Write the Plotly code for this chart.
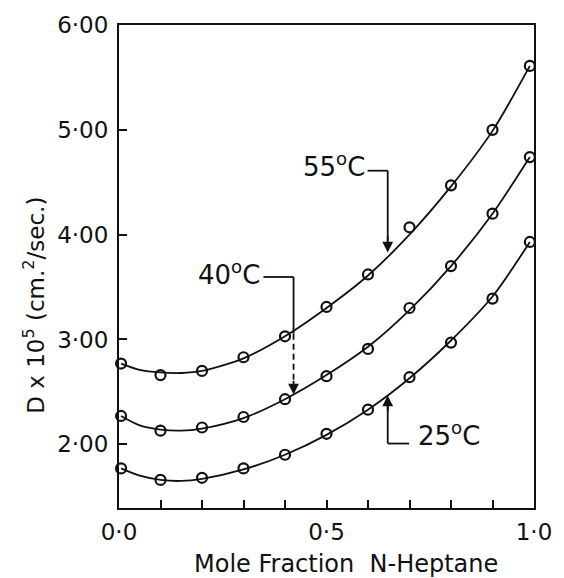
import plotly.graph_objects as go

# ---- data ----
mole_fraction = [0.005, 0.1, 0.2, 0.3, 0.4, 0.5, 0.6, 0.7, 0.8, 0.9, 0.99]
d_25C = [1.77, 1.66, 1.68, 1.77, 1.90, 2.10, 2.33, 2.64, 2.97, 3.39, 3.93]
d_40C = [2.27, 2.13, 2.16, 2.26, 2.43, 2.65, 2.91, 3.30, 3.70, 4.20, 4.74]
d_55C = [2.77, 2.66, 2.70, 2.83, 3.03, 3.31, 3.62, 4.07, 4.47, 5.00, 5.61]

# smooth fitted curves as drawn in the picture
curve_x = [0.005, 0.05, 0.1, 0.15, 0.2, 0.3, 0.4, 0.5, 0.6, 0.7, 0.8, 0.9, 0.99]
curve_25C = [1.77, 1.70, 1.66, 1.65, 1.67, 1.76, 1.90, 2.09, 2.33, 2.63, 2.99, 3.41, 3.93]
curve_40C = [2.27, 2.18, 2.14, 2.13, 2.15, 2.25, 2.43, 2.66, 2.93, 3.28, 3.70, 4.20, 4.74]
curve_55C = [2.77, 2.71, 2.685, 2.68, 2.70, 2.82, 3.03, 3.30, 3.61, 4.00, 4.46, 4.99, 5.61]

x_tick_vals = [0.0, 0.5, 1.0]
x_tick_text = ["0·0", "0·5", "1·0"]
y_tick_vals = [2, 3, 4, 5, 6]
y_tick_text = ["2·00", "3·00", "4·00", "5·00", "6·00"]

FONT = "DejaVu Sans"
BLACK = "#111111"

fig = go.Figure()

for cy in (curve_25C, curve_40C, curve_55C):
    fig.add_trace(go.Scatter(x=curve_x, y=cy, mode="lines",
                             line=dict(color=BLACK, width=1.8, shape="spline", smoothing=0.8),
                             showlegend=False, hoverinfo="skip"))

for name, dy in (("25 °C", d_25C), ("40 °C", d_40C), ("55 °C", d_55C)):
    fig.add_trace(go.Scatter(x=mole_fraction, y=dy, mode="markers", name=name,
                             marker=dict(symbol="circle-open", size=10, color=BLACK,
                                         line=dict(width=2.2, color=BLACK)),
                             cliponaxis=False, showlegend=False))

shapes = []
def seg(x0, y0, x1, y1, dash="solid"):
    shapes.append(dict(type="line", xref="x", yref="y", x0=x0, y0=y0, x1=x1, y1=y1,
                       line=dict(color=BLACK, width=1.8, dash=dash)))

# 55 C leader
seg(0.599, 4.61, 0.6475, 4.61)
seg(0.6475, 4.61, 0.6475, 3.90)
# 40 C leader
seg(0.348, 3.596, 0.4206, 3.596)
seg(0.4206, 3.596, 0.4206, 3.055)
seg(0.4206, 3.055, 0.4206, 2.54, dash="6px,4px")
# 25 C leader
seg(0.699, 2.007, 0.6475, 2.007)
seg(0.6475, 2.007, 0.6475, 2.40)

annotations = []
def arrow(x, y, ax, ay):
    annotations.append(dict(x=x, y=y, ax=ax, ay=ay, xref="x", yref="y", axref="x", ayref="y",
                            text="", showarrow=True, arrowhead=2, arrowsize=1.2,
                            arrowwidth=1.8, arrowcolor=BLACK))

arrow(0.6475, 3.83, 0.6475, 4.0)
arrow(0.4206, 2.475, 0.4206, 2.62)
arrow(0.6475, 2.466, 0.6475, 2.30)

def label(text, x, y, xanchor):
    annotations.append(dict(x=x, y=y, xref="x", yref="y", text=text, showarrow=False,
                            xanchor=xanchor, yanchor="middle",
                            font=dict(family=FONT, size=26, color=BLACK)))

label("55<sup>o</sup>C", 0.598, 4.66, "right")
label("40<sup>o</sup>C", 0.345, 3.63, "right")
label("25<sup>o</sup>C", 0.716, 2.10, "left")

# axis titles placed as in the reference
annotations.append(dict(xref="paper", yref="paper", x=0, y=0.4186, xshift=-85,
                        text="D x 10<sup>5</sup> (cm.<sup>2</sup>/sec.)", textangle=-90,
                        showarrow=False, xanchor="center", yanchor="middle",
                        font=dict(family=FONT, size=23, color=BLACK)))
annotations.append(dict(xref="paper", yref="paper", x=0.546, y=0, yshift=-56,
                        text="Mole Fraction  N-Heptane",
                        showarrow=False, xanchor="center", yanchor="middle",
                        font=dict(family=FONT, size=24, color=BLACK)))

fig.update_layout(
    width=564, height=578,
    margin=dict(l=119, r=22, t=23, b=70),
    paper_bgcolor="white", plot_bgcolor="white",
    font=dict(family=FONT, color=BLACK),
    shapes=shapes, annotations=annotations,
    xaxis=dict(range=[0, 1.0], tickvals=x_tick_vals, ticktext=x_tick_text,
               ticks="inside", ticklen=8, tickwidth=1.8, tickcolor=BLACK,
               minor=dict(dtick=0.1, tick0=0, ticks="inside", ticklen=8, tickwidth=1.8, tickcolor=BLACK),
               showline=True, linewidth=2, linecolor=BLACK, mirror=True,
               showgrid=False, zeroline=False, ticklabelstandoff=2,
               tickfont=dict(family=FONT, size=23, color=BLACK)),
    yaxis=dict(range=[1.392, 6.0], tickvals=y_tick_vals, ticktext=y_tick_text,
               ticks="inside", ticklen=8, tickwidth=1.8, tickcolor=BLACK,
               showline=True, linewidth=2, linecolor=BLACK, mirror=True,
               showgrid=False, zeroline=False, ticklabelstandoff=4,
               tickfont=dict(family=FONT, size=23, color=BLACK)),
)

fig.write_html("out.html")
